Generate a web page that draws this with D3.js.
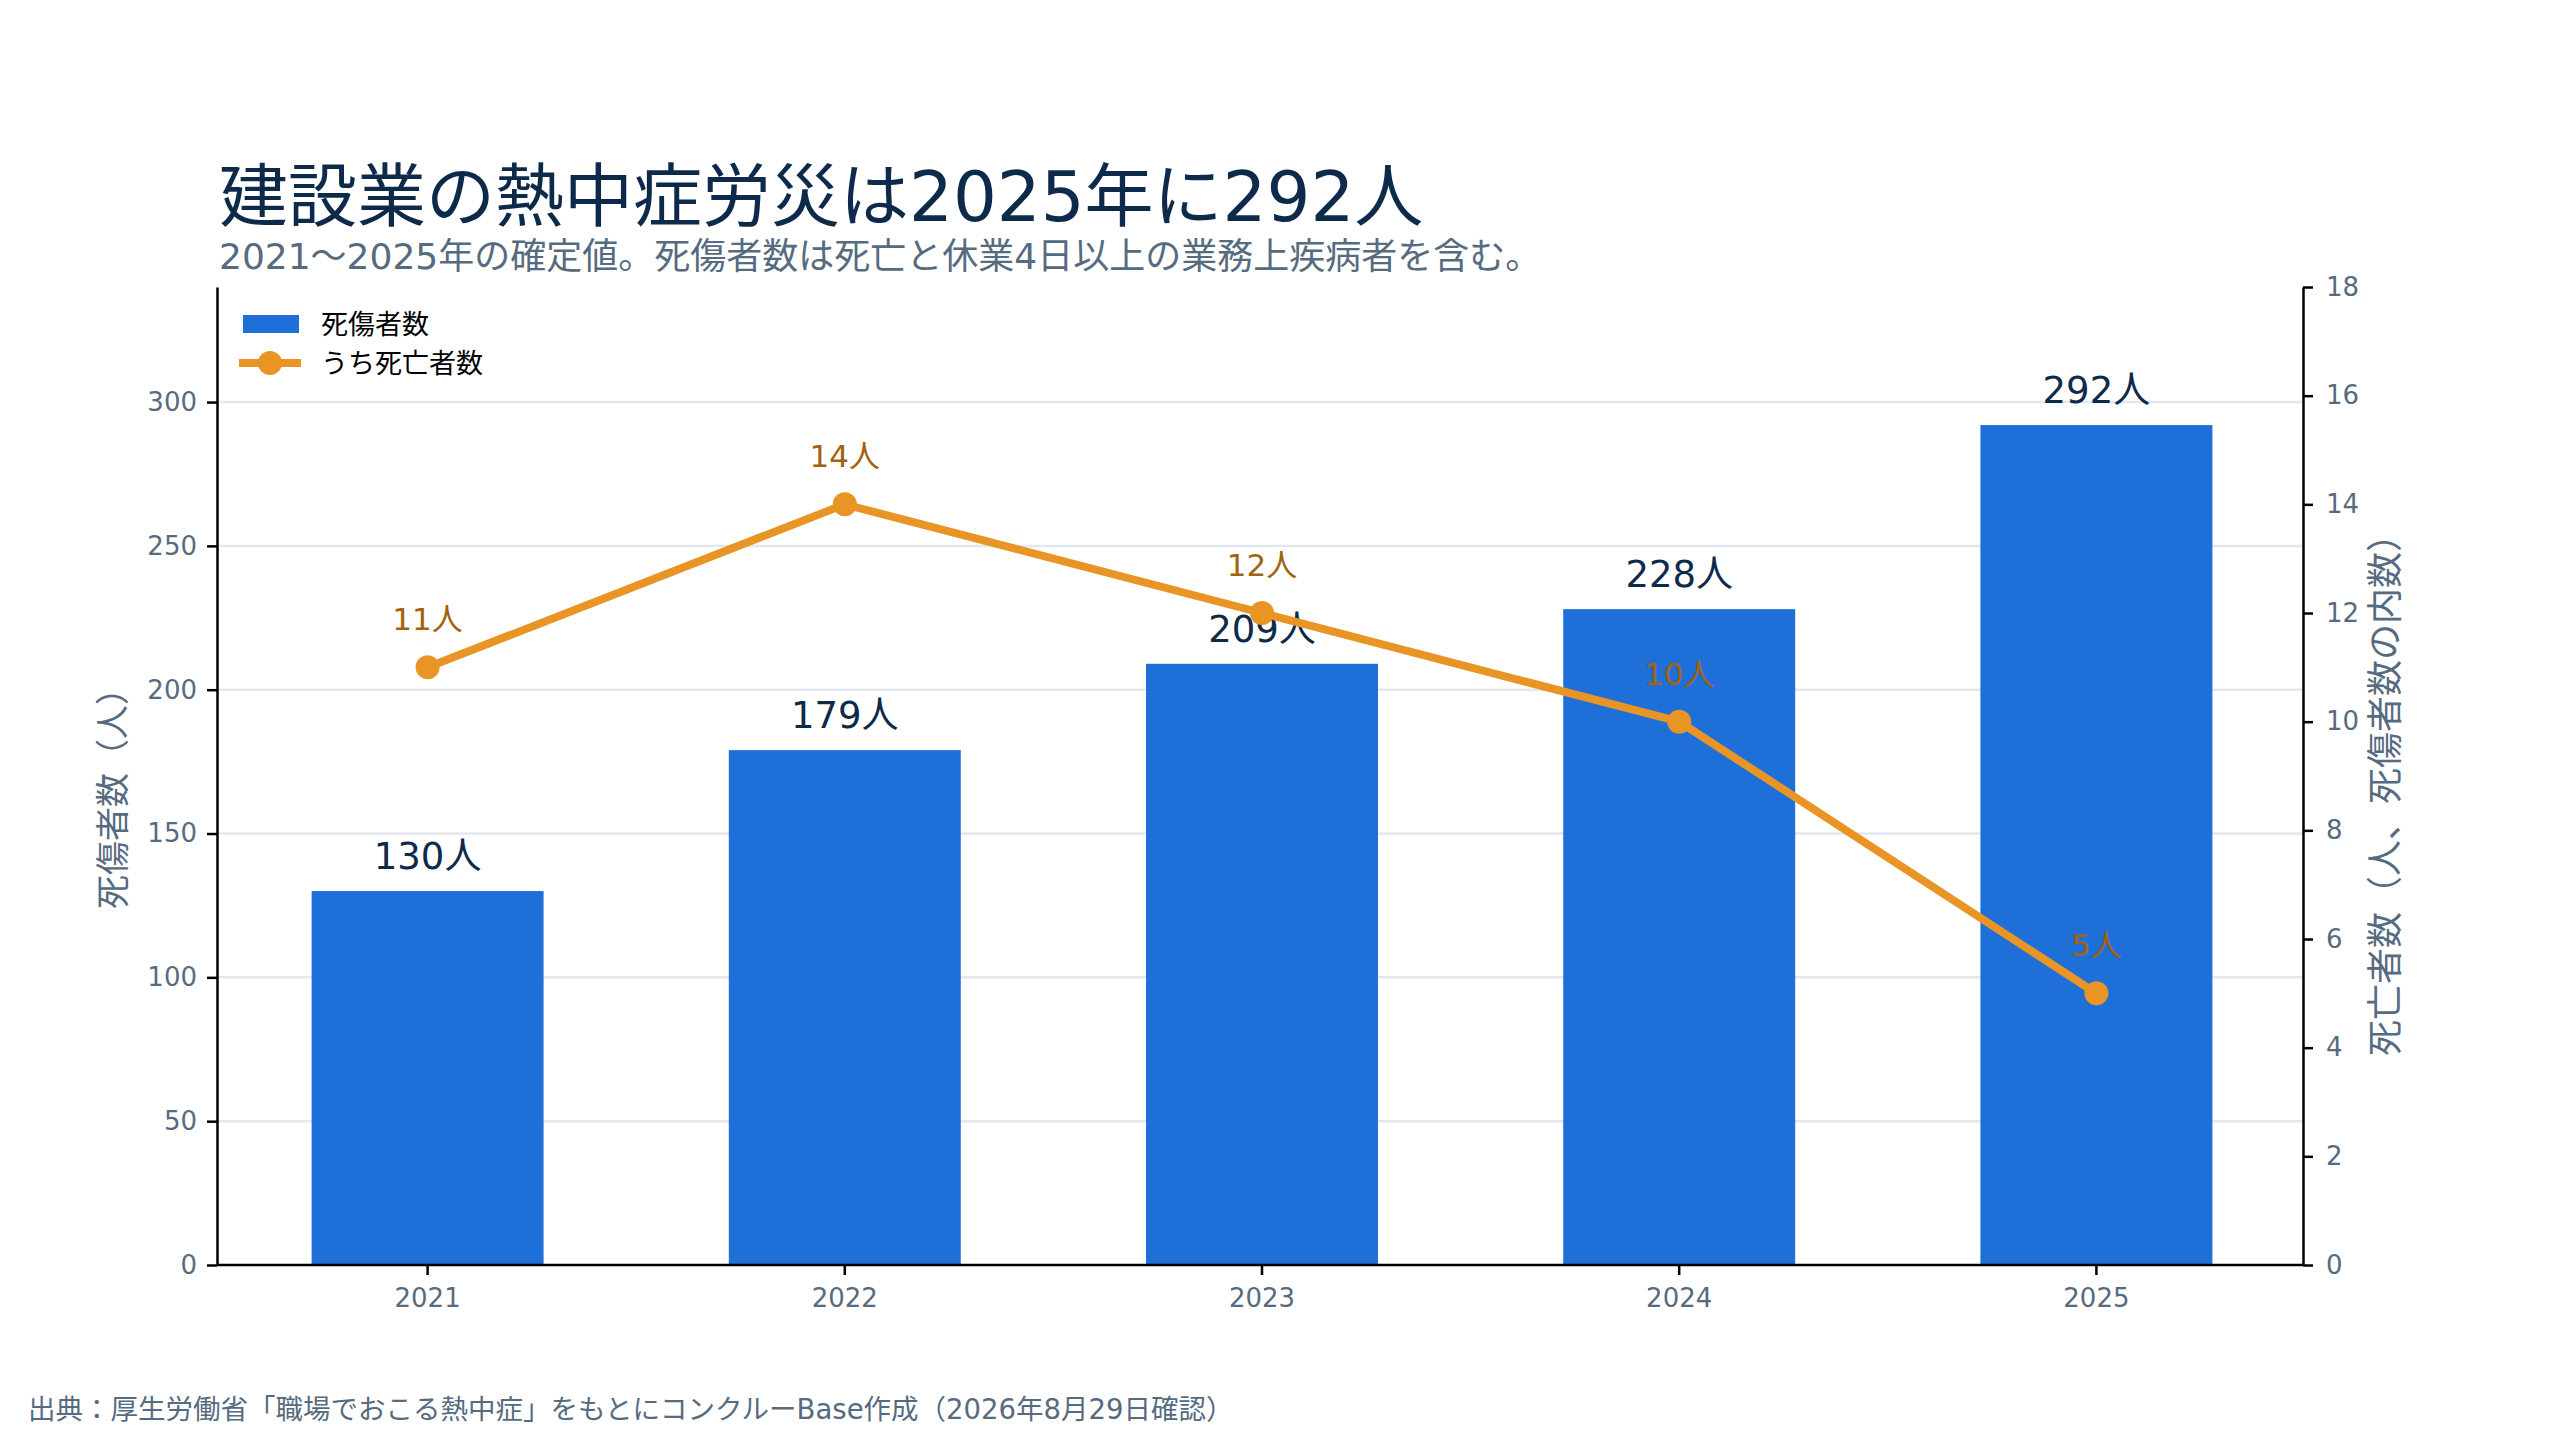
<!DOCTYPE html>
<html><head><meta charset="utf-8">
<script src="https://cdn.jsdelivr.net/npm/d3@7"></script>
<style>
html,body{margin:0;padding:0;background:#fff;}
text{font-family:"DejaVu Sans","Noto Sans CJK JP",sans-serif;}
</style></head>
<body><svg id="c" width="2560" height="1440"></svg>
<script>
const years = ["2021","2022","2023","2024","2025"];
const casualties = [130,179,209,228,292];
const deaths = [11,14,12,10,5];
const leftTicks = [0,50,100,150,200,250,300];
const rightTicks = [0,2,4,6,8,10,12,14,16,18];
const titleText = "建設業の熱中症労災は2025年に292人";
const subtitleText = "2021～2025年の確定値。死傷者数は死亡と休業4日以上の業務上疾病者を含む。";
const leftTitle = "死傷者数（人）";
const rightTitle = "死亡者数（人、死傷者数の内数）";
const legendLabels = ["死傷者数","うち死亡者数"];
const sourceText = "出典：厚生労働省「職場でおこる熱中症」をもとにコンクルーBase作成（2026年8月29日確認）";

const svg = d3.select("#c");
const M = {left:217, right:2303, top:287, bottom:1265};
const navy = "#0d2a4a", slate = "#566b80", blue = "#1f6fd9", orange = "#e89526", brown = "#a3620f";
const FF = "\"DejaVu Sans\",\"Noto Sans CJK JP\",sans-serif";

const x = d3.scaleBand().domain(years).range([M.left+2, M.right+2]).paddingInner(0.444).paddingOuter(0.222);
const yL = d3.scaleLinear().domain([0,340]).range([M.bottom, M.top]);
const yR = d3.scaleLinear().domain([0,18]).range([M.bottom, M.top]);

// title
svg.append("text").attr("x",219).attr("y",221).attr("font-size",69).attr("fill",navy).attr("font-weight",400).text(titleText);
svg.append("text").attr("x",219).attr("y",269).attr("font-size",36).attr("fill",slate).text(subtitleText);

// grid
svg.append("g").selectAll("line").data(leftTicks.filter(d=>d>0)).join("line")
  .attr("x1",M.left).attr("x2",M.right).attr("y1",d=>yL(d)).attr("y2",d=>yL(d))
  .attr("stroke","#e4e7ee").attr("stroke-width",2.5);

// bars
svg.append("g").selectAll("rect").data(years).join("rect")
  .attr("x",d=>x(d)).attr("width",x.bandwidth())
  .attr("y",(d,i)=>yL(casualties[i])).attr("height",(d,i)=>yL(0)-yL(casualties[i]))
  .attr("fill",blue);

// axes
function styleAxis(g){
  g.selectAll("path").attr("stroke","#000").attr("stroke-width",2.5);
  g.selectAll("line").attr("stroke","#000").attr("stroke-width",2.5);
  g.selectAll("text").attr("fill",slate).attr("font-size",26).attr("font-family",FF);
}
const gL = svg.append("g").attr("transform",`translate(${M.left},0)`)
  .call(d3.axisLeft(yL).tickValues(leftTicks).tickSize(10).tickPadding(10).tickSizeOuter(0));
styleAxis(gL);
const gR = svg.append("g").attr("transform",`translate(${M.right},0)`)
  .call(d3.axisRight(yR).tickValues(rightTicks).tickSize(10).tickPadding(13).tickSizeOuter(0));
styleAxis(gR);
const gB = svg.append("g").attr("transform",`translate(0,${M.bottom})`)
  .call(d3.axisBottom(x).tickSize(10).tickPadding(14).tickSizeOuter(0));
styleAxis(gB);
gB.select("path").attr("d",`M${M.left},0H${M.right}`);

// axis titles
svg.append("text").attr("transform",`translate(125,${(M.top+M.bottom)/2+14}) rotate(-90)`)
  .attr("text-anchor","middle").attr("font-size",34).attr("fill",slate).text(leftTitle);
svg.append("text").attr("transform",`translate(2398,${(M.top+M.bottom)/2+10}) rotate(-90)`)
  .attr("text-anchor","middle").attr("font-size",36).attr("fill",slate).text(rightTitle);

// bar labels
svg.append("g").selectAll("text").data(years).join("text")
  .attr("x",d=>x(d)+x.bandwidth()/2).attr("y",(d,i)=>yL(casualties[i])-22)
  .attr("text-anchor","middle").attr("font-size",37).attr("fill",navy)
  .text((d,i)=>casualties[i]+"人");

// line
const cx = d=>x(d)+x.bandwidth()/2;
const line = d3.line().x((d,i)=>cx(years[i])).y(d=>yR(d));
svg.append("path").datum(deaths).attr("d",line).attr("fill","none")
  .attr("stroke",orange).attr("stroke-width",8).attr("stroke-linejoin","round");
svg.append("g").selectAll("circle").data(deaths).join("circle")
  .attr("cx",(d,i)=>cx(years[i])).attr("cy",d=>yR(d)).attr("r",12).attr("fill",orange);
svg.append("g").selectAll("text").data(deaths).join("text")
  .attr("x",(d,i)=>cx(years[i])).attr("y",d=>yR(d)-37)
  .attr("text-anchor","middle").attr("font-size",31).attr("fill",brown)
  .text(d=>d+"人");

// legend
svg.append("rect").attr("x",243).attr("y",315).attr("width",56).attr("height",18).attr("fill",blue);
svg.append("text").attr("x",321).attr("y",334).attr("font-size",27).attr("fill","#000").text(legendLabels[0]);
svg.append("line").attr("x1",239).attr("x2",301).attr("y1",363).attr("y2",363).attr("stroke",orange).attr("stroke-width",8);
svg.append("circle").attr("cx",270).attr("cy",363).attr("r",12).attr("fill",orange);
svg.append("text").attr("x",321).attr("y",373).attr("font-size",27).attr("fill","#000").text(legendLabels[1]);

// source
svg.append("text").attr("x",28).attr("y",1419).attr("font-size",27.5).attr("fill",slate).text(sourceText);
</script></body></html>
